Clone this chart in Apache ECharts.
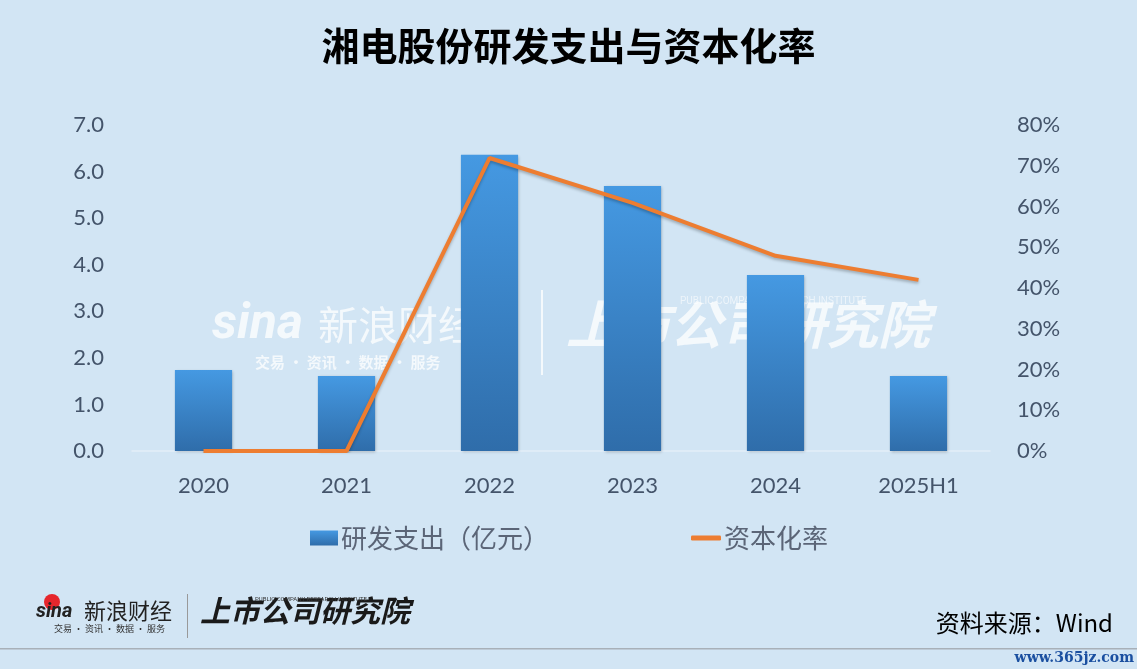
<!DOCTYPE html>
<html>
<head>
<meta charset="utf-8">
<script src="https://cdn.jsdelivr.net/npm/echarts@6/dist/echarts.min.js"></script>
<style>
html,body{margin:0;padding:0;background:#d2e5f4;}
#c{width:1137px;height:669px;}
</style>
</head>
<body>
<div id="c"></div>
<script>
const categories = ['2020','2021','2022','2023','2024','2025H1'];
const rdSpend = [1.74, 1.61, 6.36, 5.69, 3.78, 1.61];
const capRate = [0, 0, 71.9, 60.9, 47.9, 42.0];
const leftTicks = {min:0, max:7, interval:1};
const rightTicks = {min:0, max:80, interval:10};

const chart = echarts.init(document.getElementById('c'), null, {renderer:'canvas'});
const labelColor = '#44546a';
const wm = 'rgba(255,255,255,0.75)';
chart.setOption({
  backgroundColor:'#d2e5f4',
  animation:false,
  title:{
    text:'湘电股份研发支出与资本化率',
    left:'center', top:22,
    textStyle:{fontFamily:'Noto Sans CJK SC', fontWeight:'bold', fontSize:38, color:'#000'}
  },
  grid:{left:132, right:147, top:125, bottom:218},
  legend:[
    {data:[{name:'研发支出（亿元）', icon:'rect'}], left:305, top:520, itemWidth:28, itemHeight:15, itemGap:4,
     textStyle:{fontFamily:'Noto Sans CJK SC', fontSize:26, color:'#5b6577', padding:[0,0,0,-2]}},
    {data:[{name:'资本化率', icon:'roundRect'}], left:686, top:520, itemWidth:30, itemHeight:5,
     textStyle:{fontFamily:'Noto Sans CJK SC', fontSize:26, color:'#5b6577', padding:[0,0,0,-2]}}
  ],
  xAxis:{
    type:'category', data:categories,
    axisLine:{lineStyle:{color:'#e3eef8', width:1.5}},
    axisTick:{show:false},
    axisLabel:{fontFamily:'Lato', fontSize:22, color:labelColor, margin:24}
  },
  yAxis:[
    {type:'value', min:leftTicks.min, max:leftTicks.max, interval:leftTicks.interval,
     splitLine:{show:false}, axisLine:{show:false}, axisTick:{show:false},
     axisLabel:{fontFamily:'Lato', fontSize:22, color:labelColor, margin:28,
       formatter:v=>v.toFixed(1)}},
    {type:'value', min:rightTicks.min, max:rightTicks.max, interval:rightTicks.interval,
     splitLine:{show:false}, axisLine:{show:false}, axisTick:{show:false},
     axisLabel:{fontFamily:'Lato', fontSize:22, color:labelColor, margin:27,
       formatter:v=>v+'%'}}
  ],
  series:[
    {name:'研发支出（亿元）', type:'bar', data:rdSpend, barWidth:'40%', yAxisIndex:0,
     itemStyle:{color:new echarts.graphic.LinearGradient(0,0,0,1,[
       {offset:0,color:'#4599e2'},{offset:1,color:'#2f6daa'}]),
       shadowColor:'rgba(0,0,0,0.25)', shadowBlur:3, shadowOffsetX:1, shadowOffsetY:1}},
    {name:'资本化率', type:'line', data:capRate, yAxisIndex:1, symbol:'none',
     lineStyle:{color:'#ed7d31', width:4, shadowColor:'rgba(0,0,0,0.25)', shadowBlur:3, shadowOffsetY:2},
     itemStyle:{color:'#ed7d31'}, z:5}
  ],
  graphic:[
    {type:'text', left:212, top:300, z:1, style:{text:'sina', font:'italic bold 50px Roboto', fill:wm}},
    {type:'text', left:318, top:305, z:1, style:{text:'新浪财经', font:'40px "Noto Sans CJK SC"', fill:wm}},
    {type:'text', left:255, top:355, z:1, style:{text:'交易 · 资讯 · 数据 · 服务', font:'bold 15px "Noto Sans CJK SC"', fill:wm}},
    {type:'rect', left:541, top:290, z:1, shape:{width:2, height:85}, style:{fill:wm}},
    {type:'text', left:566, top:298, z:1, style:{text:'上市公司研究院', font:'italic bold 52px "Noto Sans CJK SC"', fill:wm}},
    {type:'text', left:680, top:296, z:1, style:{text:'PUBLIC COMPANY RESEARCH INSTITUTE', font:'10px Roboto', fill:'rgba(255,255,255,0.6)'}},
    {type:'circle', shape:{cx:52, cy:602, r:8}, style:{fill:'#e6262c'}},
    {type:'text', left:36, top:602, style:{text:'sina', font:'italic bold 20px Roboto', fill:'#222'}},
    {type:'text', left:84, top:600, style:{text:'新浪财经', font:'22px "Noto Sans CJK SC"', fill:'#222'}},
    {type:'text', left:54, top:624, style:{text:'交易 · 资讯 · 数据 · 服务', font:'9px "Noto Sans CJK SC"', fill:'#333'}},
    {type:'rect', left:187, top:594, shape:{width:1, height:44}, style:{fill:'#999'}},
    {type:'text', left:200, top:596, style:{text:'上市公司研究院', font:'italic bold 30px "Noto Sans CJK SC"', fill:'#1a1a1a'}},
    {type:'text', left:255, top:596, style:{text:'PUBLIC COMPANY RESEARCH INSTITUTE', font:'6px Roboto', fill:'#333'}},
    {type:'text', right:24, top:611, style:{text:'资料来源：Wind', font:'24px "Noto Sans CJK SC"', fill:'#000'}},
    {type:'rect', left:0, top:648, shape:{width:1137, height:1.5}, style:{fill:'#a8b0b8'}},
    {type:'text', right:3, top:651, style:{text:'www.365jz.com', font:'bold 14px "DejaVu Serif"', fill:'#1a4fa0'}}
  ]
});
</script>
</body>
</html>
